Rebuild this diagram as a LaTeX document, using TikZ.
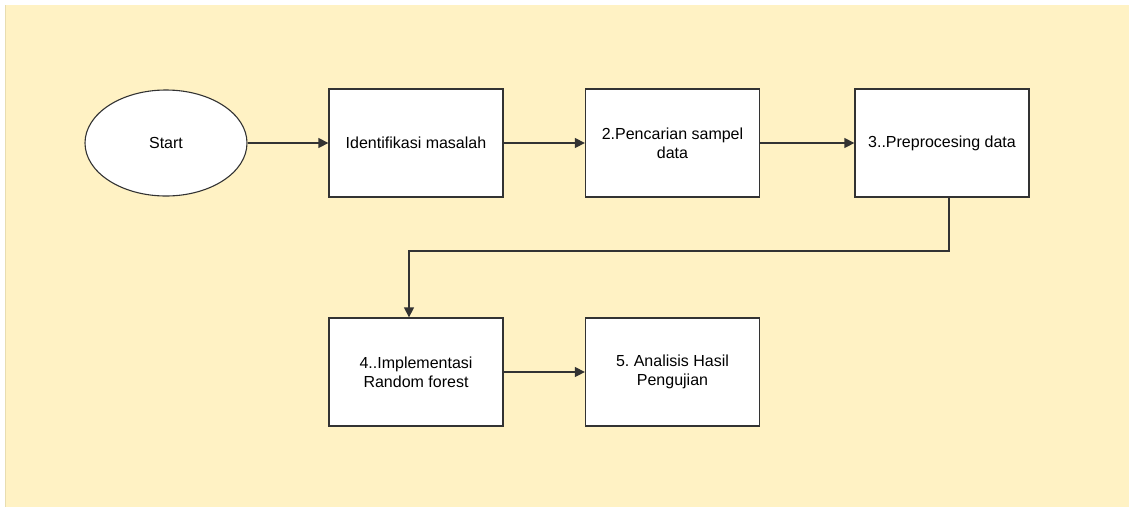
\documentclass[tikz,border=0pt]{standalone}
\usepackage{fontspec}
\setmainfont{Liberation Sans}
\usetikzlibrary{arrows.meta,calc,shapes.geometric}
\definecolor{bgyellow}{HTML}{FFF2C4}
\definecolor{bgedge}{HTML}{E8DDB0}
\definecolor{linegray}{HTML}{333333}
\frenchspacing
\tikzset{
  stepbox/.style={draw=linegray, line width=1.3pt, fill=white, rectangle,
    minimum width=174pt, minimum height=108pt, align=center, inner sep=0pt,
    font=\fontsize{16}{19}\selectfont},
  startell/.style={draw=linegray, line width=1.1pt, fill=white, ellipse,
    minimum width=162pt, minimum height=106pt, inner sep=0pt,
    font=\fontsize{16}{19}\selectfont},
  conn/.style={draw=linegray, line width=1.3pt, -{Triangle[length=10pt,width=10pt]}}
}
\begin{document}
\begin{tikzpicture}[x=1pt,y=-1pt]
\useasboundingbox (0,0) rectangle (1129,507);
\fill[white] (0,0) rectangle (1129,507);
\fill[bgyellow] (5,5) rectangle (1129,507);
\draw[bgedge, line width=1pt] (5.5,5) -- (5.5,507);
\node[startell] (start) at (166,143) {Start};
\node[stepbox] (b1) at (416,143) {Identifikasi masalah};
\node[stepbox] (b2) at (672.5,143) {2.Pencarian sampel\\data};
\node[stepbox] (b3) at (942,143) {3..Preprocesing data};
\node[stepbox] (b4) at (416,372) {4..Implementasi\\Random forest};
\node[stepbox] (b5) at (672.5,372) {5. Analisis Hasil\\Pengujian};
\coordinate (m) at (949,251);
\draw[conn] (start.east) -- (b1.west);
\draw[conn] (b1.east) -- (b2.west);
\draw[conn] (b2.east) -- (b3.west);
\draw[conn] ([xshift=7pt]b3.south) |- (m) -| ([xshift=-7pt]b4.north);
\draw[conn] (b4.east) -- (b5.west);
\end{tikzpicture}
\end{document}
